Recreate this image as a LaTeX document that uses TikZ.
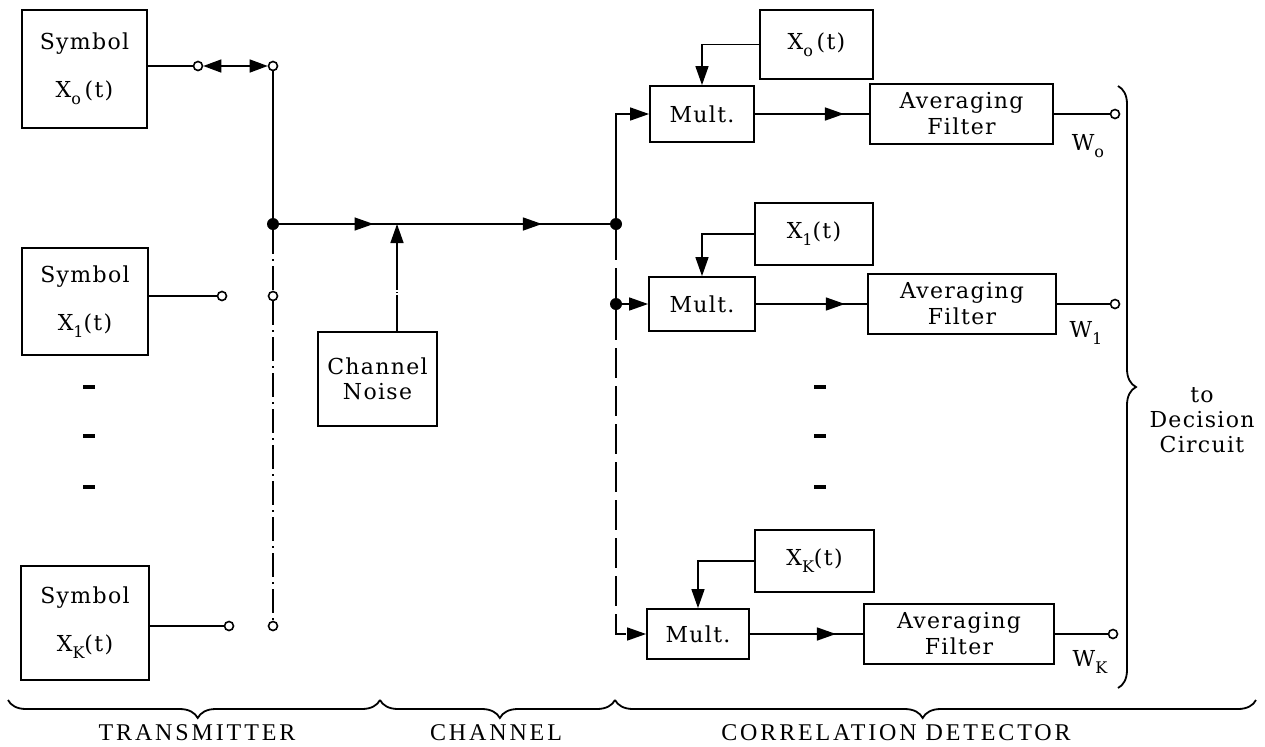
\documentclass[tikz,border=0pt]{standalone}
\usepackage{fontspec}
\setmainfont{DejaVu Serif}[LetterSpace=6]
\newfontfamily\labfont{Liberation Serif}[LetterSpace=12]
\usetikzlibrary{arrows.meta,decorations.pathreplacing,decorations.markings}
\newcommand{\sbx}[1]{\raisebox{-0.6ex}{\footnotesize #1}}
\begin{document}
\begin{tikzpicture}[x=0.5pt,y=-0.5pt,
  every node/.style={font=\fontsize{11}{14}\selectfont},
  blk/.style={draw,line width=0.9pt,inner sep=0pt,align=center},
  wire/.style={line width=0.75pt},
  tri/.style={-{Triangle[length=9.5pt,width=6.5pt]}},
  dtri/.style={{Triangle[length=9pt,width=6.5pt]}-{Triangle[length=9pt,width=6.5pt]}},
  midarr/.style={postaction={decorate,decoration={markings,mark=at position #1 with {\arrow{Triangle[length=9.5pt,width=6.5pt]}}}}},
  open/.style={circle,draw,fill=white,line width=0.8pt,minimum size=4.5pt,inner sep=0pt},
  dot/.style={circle,fill,minimum size=6pt,inner sep=0pt},
  dashdot/.style={dash pattern=on 12pt off 2.5pt on 1pt off 2.5pt},
  longdash/.style={dash pattern=on 15pt off 4pt},
  tick/.style={line width=1.6pt},
  brc/.style={decorate,line width=0.9pt},
  lab/.style={font=\labfont\fontsize{12}{13}\selectfont}
]
\useasboundingbox (0,0) rectangle (1265,746);

% ---------- transmitter ----------
\node[blk,minimum width=62.5pt,minimum height=59pt] (s0) at (84.5,69) {Symbol\\[10pt]X\sbx{o}\,(t)};
\node[blk,minimum width=63pt,minimum height=53.5pt] (s1) at (85,301.5) {Symbol\\[10pt]X\sbx{1}(t)};
\node[blk,minimum width=64pt,minimum height=57pt] (sK) at (85,623) {Symbol\\[10pt]X\sbx{K}(t)};

\node[open] (c0a) at (198,66) {};
\node[open] (c0b) at (273,66) {};
\node[dot]  (j1)  at (273,224) {};
\node[open] (c1a) at (222,296) {};
\node[open] (c1b) at (273,296) {};
\node[open] (cKa) at (229,626) {};
\node[open] (cKb) at (273,626) {};

\draw[wire] (s0.east |- c0a) -- (c0a);
\draw[wire,dtri] (c0a) -- (c0b);
\draw[wire] (c0b) -- (j1);
\draw[wire,dashdot] (j1) -- (c1b);
\draw[wire,dashdot] (c1b) -- (cKb);
\draw[wire] (s1.east |- c1a) -- (c1a);
\draw[wire] (sK.east |- cKa) -- (cKa);

\draw[tick] (83,387) -- (95,387);
\draw[tick] (83,436) -- (95,436);
\draw[tick] (83,487) -- (95,487);

% ---------- channel ----------
\node[dot] (j2) at (616,224) {};
\coordinate (nz) at (397,224);
\node[blk,minimum width=59.5pt,minimum height=47pt,font=\fontsize{11}{12.5}\selectfont] (noise) at (377.5,379) {Channel\\Noise};
\draw[wire,midarr=0.285,midarr=0.795] (j1) -- (j2);
\draw[wire,tri,dash pattern=on 18pt off 1pt on 0.6pt off 1pt on 60pt] (noise.north -| nz) -- (nz);

% ---------- correlation detector ----------
\node[blk,minimum width=52pt,minimum height=28pt] (m0) at (702,114) {Mult.};
\node[blk,minimum width=53pt,minimum height=27pt] (m1) at (702,304) {Mult.};
\node[blk,minimum width=51pt,minimum height=25pt] (mK) at (698,634) {Mult.};

\node[blk,minimum width=56.5pt,minimum height=34.5pt] (x0) at (816.5,44.5) {X\sbx{o}\,(t)};
\node[blk,minimum width=59pt,minimum height=31pt] (x1) at (814,234) {X\sbx{1}(t)};
\node[blk,minimum width=59.5pt,minimum height=31pt] (xK) at (814.5,561) {X\sbx{K}(t)};

\node[blk,minimum width=91.5pt,minimum height=30pt,font=\fontsize{11}{13}\selectfont] (a0) at (961.5,114) {Averaging\\Filter};
\node[blk,minimum width=94pt,minimum height=30pt,font=\fontsize{11}{13}\selectfont] (a1) at (962,304) {Averaging\\Filter};
\node[blk,minimum width=95pt,minimum height=30pt,font=\fontsize{11}{13}\selectfont] (aK) at (959,634) {Averaging\\Filter};

\node[dot] (j3) at (616,304) {};

\draw[wire,tri] (j2) |- (m0.west);
\draw[wire,longdash] (j2) -- (j3);
\draw[wire,tri] (j3) -- (m1.west);
\draw[wire,longdash,tri] (j3) |- (mK.west);

\draw[wire,tri] (x0.west) -| (m0.north);
\draw[wire,tri] (x1.west) -| (m1.north);
\draw[wire,tri] (xK.west) -| (mK.north);

\draw[wire,midarr=0.78] (m0) -- (a0);
\draw[wire,midarr=0.8] (m1) -- (a1);
\draw[wire,midarr=0.76] (mK) -- (aK);

\node[open] (o0) at (1115,114) {};
\node[open] (o1) at (1115,304) {};
\node[open] (oK) at (1113,634) {};
\draw[wire] (a0) -- (o0);
\draw[wire] (a1) -- (o1);
\draw[wire] (aK) -- (oK);

\node (w0) at (1088,146) {W\sbx{o}};
\node (w1) at (1086,333) {W\sbx{1}};
\node (wK) at (1090,662) {W\sbx{K}};

\draw[tick] (814,387) -- (826,387);
\draw[tick] (814,436) -- (826,436);
\draw[tick] (814,487) -- (826,487);

% ---------- right brace ----------
\draw[brc,decoration={brace,amplitude=9pt}] (1118,86) -- (1118,688);
\node[align=center,font=\fontsize{11}{12.5}\selectfont] (dec) at (1202,420) {to\\Decision\\Circuit};

% ---------- bottom braces ----------
\draw[brc,decoration={brace,amplitude=9pt,aspect=0.49}] (380,700) -- (8,700);
\draw[brc,decoration={brace,amplitude=9pt,aspect=0.49}] (615,700) -- (380,700);
\draw[brc,decoration={brace,amplitude=9pt,aspect=0.52}] (1256,700) -- (615,700);
\node[lab] (tx) at (197,733) {TRANSMITTER};
\node[lab] (ch) at (496,733) {CHANNEL};
\node[lab] (cd) at (896,733) {CORRELATION DETECTOR};
\end{tikzpicture}
\end{document}
